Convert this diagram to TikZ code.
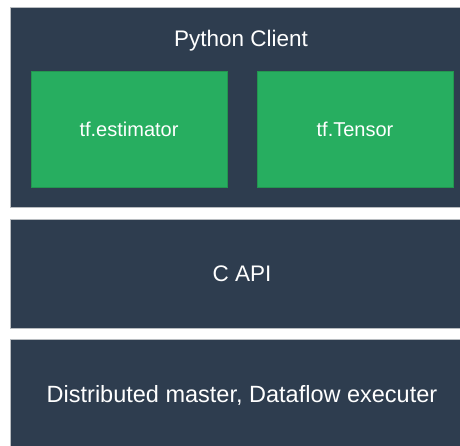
\documentclass[tikz,border=0pt]{standalone}
\usepackage{fontspec}
\setmainfont{Liberation Sans}
\definecolor{layerblue}{HTML}{2E3D4F}
\definecolor{modgreen}{HTML}{27AE60}
\definecolor{modedge}{HTML}{23964F}
\definecolor{layeredge}{HTML}{B8BCC0}

\begin{document}
\begin{tikzpicture}[x=1pt,y=-1pt,
	layer_node/.style={rectangle,fill=layerblue,draw=layeredge,line width=0.8pt,minimum width=464pt,inner sep=0pt},
	module_node/.style={rectangle,fill=modgreen,draw=modedge,line width=0.8pt,minimum width=196pt,minimum height=116pt,inner sep=0pt,text=white,font=\fontsize{20}{24}\selectfont},
	caption_node/.style={text=white,inner sep=0pt,font=\fontsize{22.5}{27}\selectfont}]
		
		\useasboundingbox (0,0) rectangle (460,446);
		\begin{scope}
		\clip (0,0) rectangle (460,446);
		\node[layer_node,minimum height=200pt] (client) at (242,107) {};
		\node[layer_node,minimum height=109pt] (capi) at (242,273.5) {};
		\node[layer_node,minimum height=113pt] (core) at (242,395.5) {};
		\end{scope}
		
		\node[caption_node] (client_title) at (241,41) {Python Client};
		\node[module_node] (estimator) at (129,129) {tf.estimator};
		\node[module_node] (tensor) at (355,129) {tf.Tensor};
		\node[caption_node] (capi_title) at (capi.center) {C API};
		\node[caption_node,font=\fontsize{23.5}{28}\selectfont] (core_title) at (242,395) {Distributed master, Dataflow executer};
		\end{tikzpicture}
\end{document}
